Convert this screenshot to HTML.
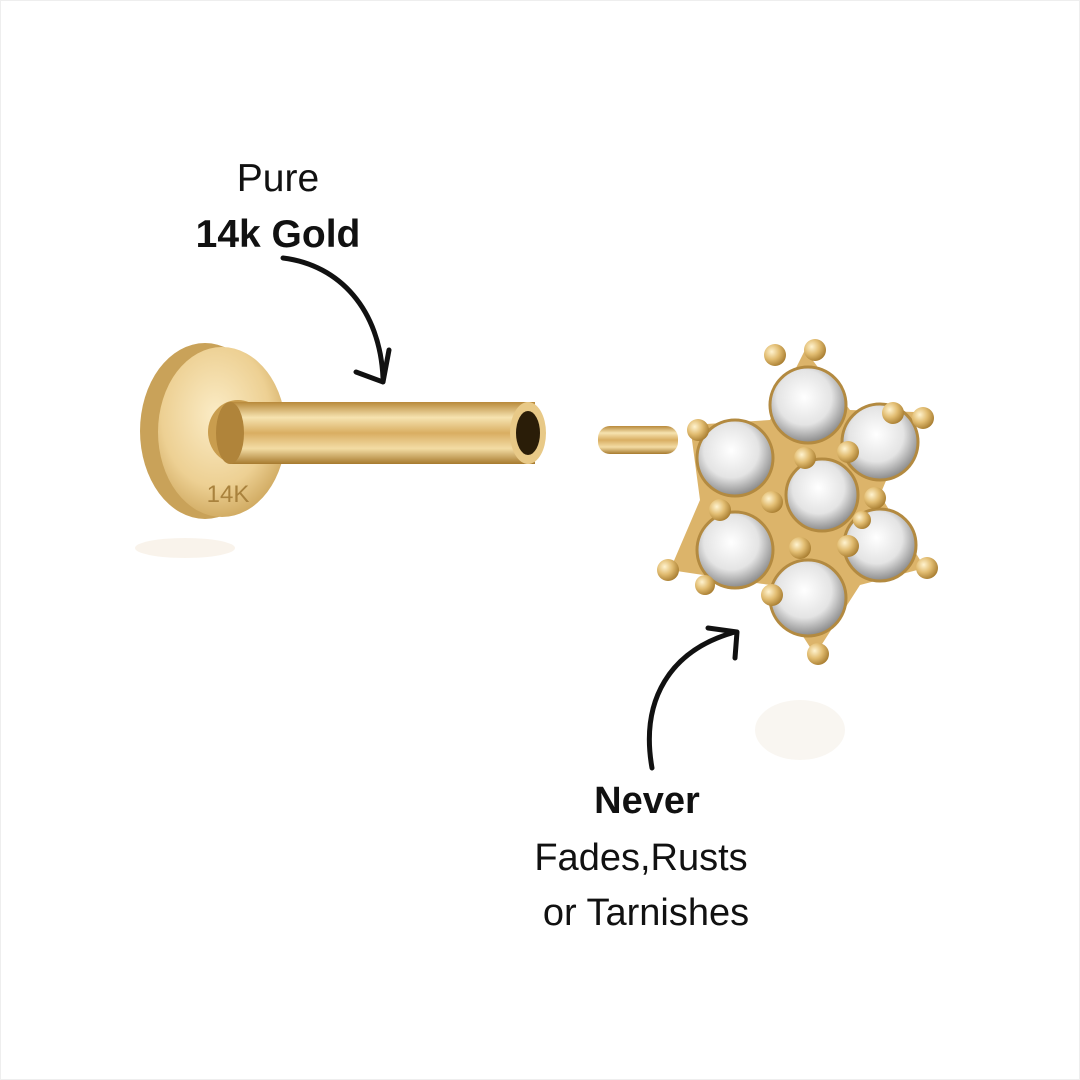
<!DOCTYPE html>
<html><head><style>
body{margin:0;width:1080px;height:1080px;background:#fff;overflow:hidden}
svg{display:block}
text{font-family:"Liberation Sans",sans-serif;fill:#111}
</style></head><body>
<svg width="1080" height="1080" viewBox="0 0 1080 1080">
<defs>
<linearGradient id="sh" x1="0" y1="0" x2="0" y2="1">
<stop offset="0" stop-color="#b8893a"/><stop offset="0.25" stop-color="#f6e3b0"/><stop offset="0.5" stop-color="#d9ae62"/><stop offset="0.75" stop-color="#f3dca4"/><stop offset="1" stop-color="#a77a2e"/></linearGradient>
<radialGradient id="disc" cx="0.45" cy="0.4" r="0.7">
<stop offset="0" stop-color="#fbecc6"/><stop offset="0.6" stop-color="#edd093"/><stop offset="1" stop-color="#c49a4c"/></radialGradient>
<radialGradient id="gem" cx="0.45" cy="0.4" r="0.6">
<stop offset="0" stop-color="#ffffff"/><stop offset="0.6" stop-color="#e4e4e4"/><stop offset="1" stop-color="#8a8a8a"/></radialGradient>
<radialGradient id="ball" cx="0.35" cy="0.35" r="0.7">
<stop offset="0" stop-color="#fff3cf"/><stop offset="0.5" stop-color="#e2bd72"/><stop offset="1" stop-color="#a87d30"/></radialGradient>
</defs>
<rect x="0.5" y="0.5" width="1079" height="1079" fill="#fff" stroke="#eee"/>
<text x="278" y="191" font-size="39" text-anchor="middle">Pure</text>
<text x="278" y="247" font-size="39" font-weight="bold" text-anchor="middle">14k Gold</text>
<path d="M283 258 C340 265 380 310 383 378" fill="none" stroke="#111" stroke-width="5" stroke-linecap="round"/>
<path d="M356 372 L383 382 L389 350" fill="none" stroke="#111" stroke-width="5" stroke-linecap="round" stroke-linejoin="round"/>
<ellipse cx="205" cy="431" rx="65" ry="88" fill="#c9a259"/>
<ellipse cx="222" cy="432" rx="64" ry="85" fill="url(#disc)"/>
<ellipse cx="185" cy="548" rx="50" ry="10" fill="#f6eee2" opacity="0.7"/>
<text x="228" y="502" font-size="24" style="fill:#a9823d" text-anchor="middle">14K</text>
<ellipse cx="238" cy="432" rx="30" ry="32" fill="#c99d4e"/>
<rect x="230" y="402" width="305" height="62" fill="url(#sh)"/>
<ellipse cx="230" cy="433" rx="14" ry="31" fill="#b0843a"/>
<ellipse cx="528" cy="433" rx="18" ry="31" fill="#e8c987"/>
<ellipse cx="528" cy="433" rx="12" ry="22" fill="#2a1d08"/>
<rect x="598" y="426" width="80" height="28" rx="12" fill="url(#sh)"/>
<path d="M805 350 L850 410 L915 412 L880 495 L925 568 L860 585 L815 655 L770 585 L670 570 L700 500 L690 425 L770 420 Z" fill="#dcb46a"/>
<g fill="url(#gem)" stroke="#b38a40" stroke-width="3">
<circle cx="808" cy="405" r="38"/><circle cx="880" cy="442" r="38"/><circle cx="735" cy="458" r="38"/>
<circle cx="822" cy="495" r="36"/><circle cx="735" cy="550" r="38"/><circle cx="880" cy="545" r="36"/><circle cx="808" cy="598" r="38"/>
</g>
<g fill="url(#ball)">
<circle cx="775" cy="355" r="11"/><circle cx="815" cy="350" r="11"/><circle cx="893" cy="413" r="11"/><circle cx="923" cy="418" r="11"/>
<circle cx="698" cy="430" r="11"/><circle cx="720" cy="510" r="11"/><circle cx="805" cy="458" r="11"/><circle cx="848" cy="452" r="11"/>
<circle cx="772" cy="502" r="11"/><circle cx="875" cy="498" r="11"/><circle cx="800" cy="548" r="11"/><circle cx="848" cy="546" r="11"/>
<circle cx="668" cy="570" r="11"/><circle cx="927" cy="568" r="11"/><circle cx="772" cy="595" r="11"/><circle cx="818" cy="654" r="11"/>
<circle cx="705" cy="585" r="10"/><circle cx="862" cy="520" r="9"/>
</g>
<ellipse cx="800" cy="730" rx="45" ry="30" fill="#f5f0e8" opacity="0.6"/>
<path d="M652 768 C640 700 670 650 735 632" fill="none" stroke="#111" stroke-width="5" stroke-linecap="round"/>
<path d="M708 628 L737 632 L735 658" fill="none" stroke="#111" stroke-width="5" stroke-linecap="round" stroke-linejoin="round"/>
<text x="647" y="813" font-size="38" font-weight="bold" text-anchor="middle">Never</text>
<text x="641" y="870" font-size="38" text-anchor="middle">Fades,Rusts</text>
<text x="646" y="925" font-size="38" text-anchor="middle">or Tarnishes</text>
</svg>
</body></html>
